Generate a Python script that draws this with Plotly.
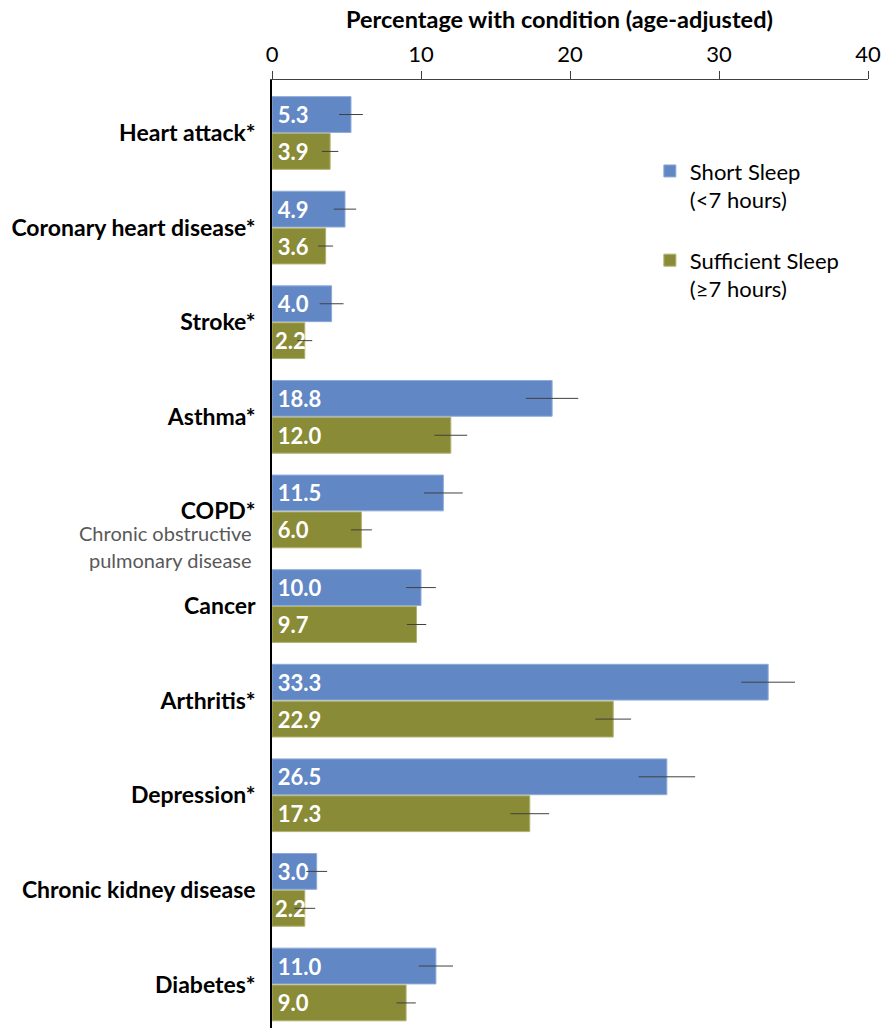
import plotly.graph_objects as go

categories = ["Heart attack*", "Coronary heart disease*", "Stroke*", "Asthma*", "COPD*",
              "Cancer", "Arthritis*", "Depression*", "Chronic kidney disease", "Diabetes*"]
short_sleep = [5.3, 4.9, 4.0, 18.8, 11.5, 10.0, 33.3, 26.5, 3.0, 11.0]
short_err = [0.8, 0.75, 0.8, 1.75, 1.3, 1.0, 1.8, 1.9, 0.7, 1.15]
sufficient_sleep = [3.9, 3.6, 2.2, 12.0, 6.0, 9.7, 22.9, 17.3, 2.2, 9.0]
sufficient_err = [0.55, 0.5, 0.5, 1.1, 0.7, 0.65, 1.2, 1.3, 0.7, 0.65]
x_ticks = [0, 10, 20, 30, 40]

FONT = "Lato"
BLUE = "#6187C5"
GREEN = "#8A8B36"


def bar_labels(values):
    # small inner padding when the label fits comfortably inside the bar
    return [("\u2009" if v >= 3 else "") + f"{v:.1f}" for v in values]


fig = go.Figure()
fig.add_trace(go.Bar(
    y=categories, x=short_sleep, orientation="h", name="Short Sleep<br>(<7 hours)",
    marker=dict(color=BLUE, line=dict(color="#8FA9D8", width=1)),
    error_x=dict(type="data", array=short_err, color="#404040", thickness=1, width=0),
    text=bar_labels(short_sleep), textposition="inside", insidetextanchor="start",
    textangle=0, constraintext="none", cliponaxis=False,
    textfont=dict(family=FONT, size=22, color="white", weight="bold"),
    legendgroup="a", hoverinfo="skip",
))
fig.add_trace(go.Bar(
    y=categories, x=sufficient_sleep, orientation="h", name="Sufficient Sleep<br>(≥7 hours)",
    marker=dict(color=GREEN, line=dict(color="#B0B16F", width=1)),
    error_x=dict(type="data", array=sufficient_err, color="#404040", thickness=1, width=0),
    text=bar_labels(sufficient_sleep), textposition="inside", insidetextanchor="start",
    textangle=0, constraintext="none", cliponaxis=False,
    textfont=dict(family=FONT, size=22, color="white", weight="bold"),
    legendgroup="b", hoverinfo="skip",
))

fig.update_layout(
    width=887, height=1020,
    margin=dict(l=264, r=27, t=72, b=0, pad=0),
    paper_bgcolor="white", plot_bgcolor="white",
    barmode="group", bargap=0.22, bargroupgap=0.03,
    font=dict(family=FONT, color="black"),
    showlegend=True,
    legend=dict(x=0.634, y=0.926, xanchor="left", yanchor="top",
                font=dict(family=FONT, size=22, color="black"),
                valign="top", tracegroupgap=29, traceorder="grouped",
                bgcolor="rgba(0,0,0,0)"),
    xaxis=dict(side="top", range=[0, 40], tickvals=x_ticks, ticktext=[str(t) for t in x_ticks],
               ticks="outside", ticklen=8, tickcolor="#404040", showline=True, linecolor="#404040",
               linewidth=1, showgrid=False, zeroline=False,
               tickfont=dict(family=FONT, size=22, color="black")),
    yaxis=dict(categoryorder="array", categoryarray=categories, range=[9.46, -0.56],
               showline=True, linecolor="black", linewidth=1.5, ticks="", showgrid=False,
               ticklabelstandoff=10,
               tickfont=dict(family=FONT, size=23, color="black", weight="bold")),
    annotations=[
        dict(text="<b>Percentage with condition (age-adjusted)</b>", xref="paper", yref="paper",
             x=0.482, y=1, yshift=61, xanchor="center", yanchor="middle", showarrow=False,
             font=dict(family=FONT, size=23.5, color="black")),
        dict(text="Chronic obstructive", xref="paper", yref="y", x=-0.031, y="COPD*", yshift=-22,
             xanchor="right", yanchor="middle", showarrow=False,
             font=dict(family=FONT, size=20, color="#595959")),
        dict(text="pulmonary disease", xref="paper", yref="y", x=-0.031, y="COPD*", yshift=-49,
             xanchor="right", yanchor="middle", showarrow=False,
             font=dict(family=FONT, size=20, color="#595959")),
    ],
)

fig.write_html("out.html")
